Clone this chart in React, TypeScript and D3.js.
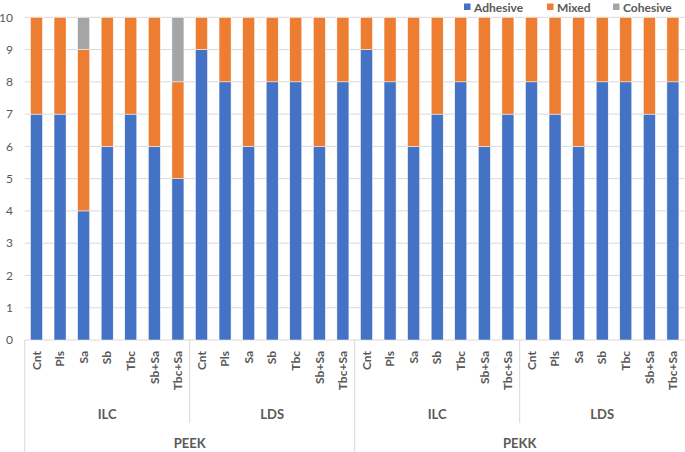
import React from "react";
import * as d3 from "d3";

const materials = ["PEEK", "PEKK"];
const methods = ["ILC", "LDS"];
const treatments = ["Cnt", "Pls", "Sa", "Sb", "Tbc", "Sb+Sa", "Tbc+Sa"];

// order: PEEK-ILC, PEEK-LDS, PEKK-ILC, PEKK-LDS
const adhesive = [
  7, 7, 4, 6, 7, 6, 5,
  9, 8, 6, 8, 8, 6, 8,
  9, 8, 6, 7, 8, 6, 7,
  8, 7, 6, 8, 8, 7, 8,
];
const mixed = [
  3, 3, 5, 4, 3, 4, 3,
  1, 2, 4, 2, 2, 4, 2,
  1, 2, 4, 3, 2, 4, 3,
  2, 3, 4, 2, 2, 3, 2,
];
const cohesive = [
  0, 0, 1, 0, 0, 0, 2,
  0, 0, 0, 0, 0, 0, 0,
  0, 0, 0, 0, 0, 0, 0,
  0, 0, 0, 0, 0, 0, 0,
];
const yTicks = [0, 1, 2, 3, 4, 5, 6, 7, 8, 9, 10];
const seriesNames = ["Adhesive", "Mixed", "Cohesive"];
const colors = ["#4472C4", "#ED7D31", "#A5A5A5"];

const W = 685;
const H = 452;
const FONT = "Lato, 'Open Sans', sans-serif";
const TEXT = "#595959";
const GRID = "#D9D9D9";

export default function App() {
  const cats: { key: string; mat: string; meth: string; tr: string }[] = [];
  materials.forEach((m) =>
    methods.forEach((me) =>
      treatments.forEach((t) => cats.push({ key: `${m}|${me}|${t}`, mat: m, meth: me, tr: t }))
    )
  );
  const rows = cats.map((c, i) => ({
    key: c.key,
    Adhesive: adhesive[i],
    Mixed: mixed[i],
    Cohesive: cohesive[i],
  }));
  const x = d3
    .scaleBand<string>()
    .domain(cats.map((c) => c.key))
    .range([24.7, 684.7])
    .paddingInner(0)
    .paddingOuter(0);
  const y = d3.scaleLinear().domain([0, 10]).range([340, 17.3]);
  const stack = d3.stack<any>().keys(seriesNames)(rows);
  const step = x.step();
  const bw = step * 0.51;
  const x0 = 24.7;
  const groupW = step * treatments.length;
  const matW = groupW * methods.length;

  return (
    <svg width={W} height={H} style={{ display: "block", position: "absolute", left: 0, top: 0 }} fontFamily={FONT}>
      <rect width={W} height={H} fill="#fff" />
      {yTicks.map((t) => (
        <g key={t}>
          <line x1={x0} x2={684.7} y1={y(t)} y2={y(t)} stroke={GRID} strokeWidth={1} />
          <text x={13} y={y(t)} dy="0.35em" textAnchor="end" fontSize={12} fill={TEXT}>
            {t}
          </text>
        </g>
      ))}
      {stack.map((s, si) => (
        <g key={s.key} fill={colors[si]}>
          {s.map((d, i) =>
            d[1] - d[0] > 0 ? (
              <rect
                key={i}
                x={(x(cats[i].key) as number) + (step - bw) / 2}
                width={bw}
                y={y(d[1])}
                height={y(d[0]) - y(d[1])}
                stroke="#fff"
                strokeWidth={0.5}
              />
            ) : null
          )}
        </g>
      ))}
      {/* category axis separators */}
      {materials.map((m, mi) => (
        <line key={m} x1={x0 + mi * matW} x2={x0 + mi * matW} y1={340} y2={H} stroke={GRID} />
      ))}
      {materials.map((m, mi) => (
        <line
          key={m + "in"}
          x1={x0 + mi * matW + groupW}
          x2={x0 + mi * matW + groupW}
          y1={340}
          y2={423}
          stroke={GRID}
        />
      ))}
      {cats.map((c) => {
        const cx = (x(c.key) as number) + step / 2;
        return (
          <text
            key={c.key}
            transform={`translate(${cx},351) rotate(-90)`}
            textAnchor="end"
            dy="0.35em"
            fontSize={12}
            fontWeight="bold"
            fill={TEXT}
          >
            {c.tr}
          </text>
        );
      })}
      {materials.map((m, mi) =>
        methods.map((me, j) => (
          <text
            key={m + me}
            x={x0 + mi * matW + j * groupW + groupW / 2}
            y={419}
            textAnchor="middle"
            fontSize={13}
            fontWeight="bold"
            fill={TEXT}
          >
            {me}
          </text>
        ))
      )}
      {materials.map((m, mi) => (
        <text
          key={m + "lbl"}
          x={x0 + mi * matW + matW / 2}
          y={448}
          textAnchor="middle"
          fontSize={13}
          fontWeight="bold"
          fill={TEXT}
        >
          {m}
        </text>
      ))}
      {/* legend */}
      {seriesNames.map((n, i) => {
        const lx = [464, 547, 613][i];
        return (
          <g key={n}>
            <rect x={lx} y={3.5} width={6.5} height={6.5} fill={colors[i]} />
            <text x={lx + 10} y={11.5} fontSize={12} fontWeight="bold" fill={TEXT}>
              {n}
            </text>
          </g>
        );
      })}
    </svg>
  );
}
